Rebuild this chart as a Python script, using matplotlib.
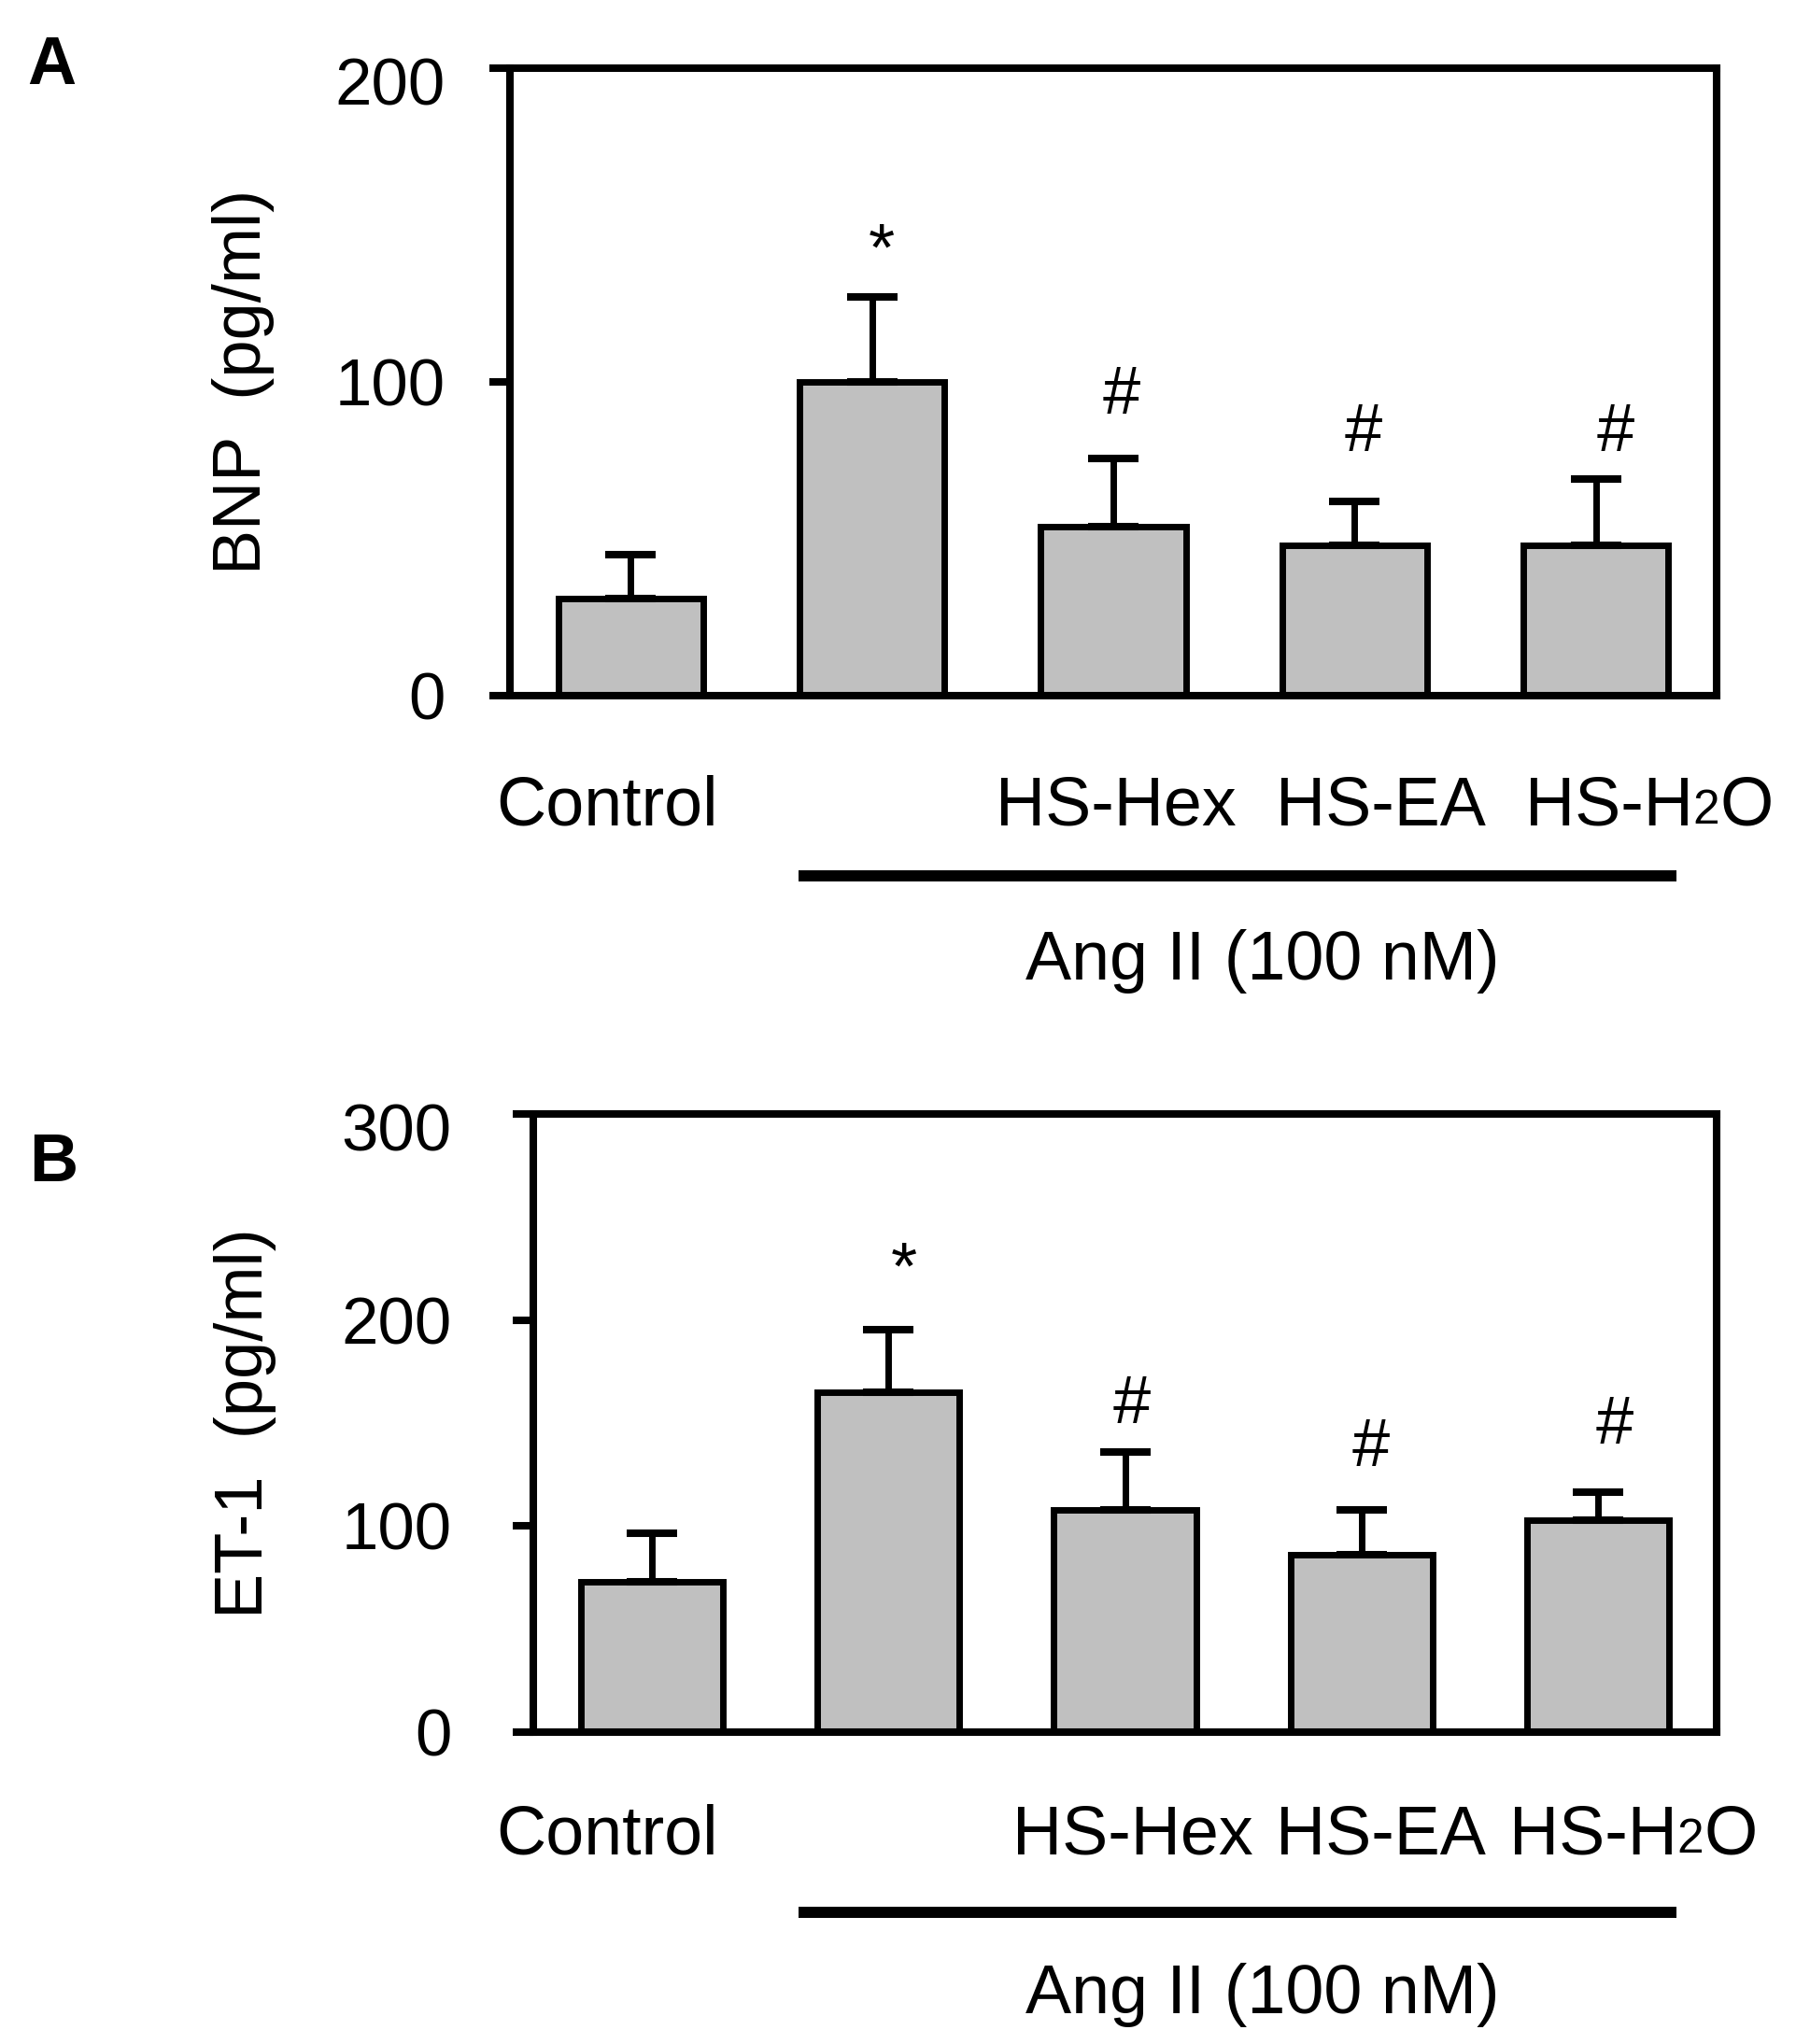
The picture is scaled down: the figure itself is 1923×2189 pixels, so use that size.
import numpy as np
import matplotlib
matplotlib.use("Agg")
import matplotlib.pyplot as plt
from matplotlib.lines import Line2D
from matplotlib.transforms import ScaledTranslation

plt.rcParams["font.family"] = ["Liberation Sans", "DejaVu Sans"]

# data
groups = ["Control", "Ang II", "HS-Hex", "HS-EA", "HS-H2O"]
group_labels = ["Control", "", "HS-Hex", "HS-EA", "HS-H"]  # "2" and "O" added below

bnp_mean = [31, 100, 54, 48, 48]
bnp_err = [14, 27, 21.5, 14, 21]
bnp_marks = ["", "*", "#", "#", "#"]
bnp_mark_y = [0, 135.5, 90, 78, 78]
bnp_ticks = [0, 100, 200]

et1_mean = [73, 165, 108, 86, 103]
et1_err = [23.5, 30.5, 28, 22, 13.5]
et1_marks = ["", "*", "#", "#", "#"]
et1_mark_y = [0, 215, 150, 129, 140]
et1_ticks = [0, 100, 200, 300]

treatment_text = "Ang II (100 nM)"

W, H = 1924, 2189
fig = plt.figure(figsize=(W / 100, H / 100), dpi=100)

FS = 53
BAR_W = 0.6
SPINE_LW = 5.8


def px(x, y):
    # pixel position -> figure fraction
    return x / W, 1 - y / H


def panel(rect, means, errs, marks, mark_y, ticks, ylabel, letter,
          letter_xy, ylabel_x, label_x, label_y, line_y, ang_y, tick_pad, mark_dx):
    ax = fig.add_axes(rect)
    x = np.arange(len(means))
    ax.bar(x, means, width=BAR_W, color="#c0c0c0", edgecolor="black",
           linewidth=5, zorder=2)
    ax.errorbar(x, means, yerr=[np.zeros(len(errs)), errs], fmt="none",
                ecolor="black", elinewidth=5, capsize=19.5, capthick=5.8, zorder=3)
    ax.set_xlim(-0.5, len(means) - 0.5)
    ax.set_ylim(ticks[0], ticks[-1])
    ax.set_xticks([])
    ax.set_yticks(ticks)
    for s in ax.spines.values():
        s.set_linewidth(SPINE_LW)
        s.set_zorder(4)
    ax.tick_params(axis="y", direction="out", length=16, width=SPINE_LW,
                   pad=tick_pad, labelsize=51)

    # top tick label sits a bit lower in the original
    top = ax.yaxis.get_major_ticks()[-1].label1
    top.set_transform(top.get_transform() +
                      ScaledTranslation(0, -0.14, fig.dpi_scale_trans))

    for xi, m, my, dx in zip(x, marks, mark_y, mark_dx):
        if m:
            ax.text(xi + dx, my, m, ha="center", va="baseline", fontsize=52)

    # y label
    cy = rect[1] + rect[3] / 2
    fig.text(ylabel_x / W, cy, ylabel, rotation=90, ha="center", va="center",
             fontsize=52)

    # panel letter
    fig.text(*px(*letter_xy), letter, fontsize=52, fontweight="bold",
             ha="left", va="baseline")

    # category labels
    by = 1 - label_y / H
    last = None
    for lab, lx in zip(group_labels, label_x):
        if lab:
            last = fig.text(lx / W, by, lab, ha="left", va="baseline", fontsize=FS)
    # small 2 on the baseline, then the O of H2O
    t2 = ax.annotate("2", xy=(1, 0), xycoords=last, xytext=(0, 3.4),
                     textcoords="offset points", ha="left", va="bottom",
                     fontsize=37, annotation_clip=False)
    ax.annotate("O", xy=(1, 0), xycoords=(t2, last), ha="left", va="bottom",
                fontsize=FS, annotation_clip=False)

    # treatment bracket
    x0, yl = px(855, line_y)
    x1, _ = px(1795, line_y)
    fig.add_artist(Line2D([x0, x1], [yl, yl], color="black", linewidth=8.6,
                          solid_capstyle="butt"))
    fig.text(1352 / W, 1 - ang_y / H, treatment_text, ha="center",
             va="baseline", fontsize=FS)
    return ax


panel([546 / W, 1 - 745 / H, (1838 - 546) / W, 672 / H],
      bnp_mean, bnp_err, bnp_marks, bnp_mark_y, bnp_ticks,
      "BNP  (pg/ml)", "A", (29, 90), 261,
      [531, 0, 1066, 1366, 1633], 883, 938, 1049, 34,
      [0, 0.04, 0.035, 0.037, 0.08])

panel([571 / W, 1 - 1855 / H, (1838 - 571) / W, 662 / H],
      et1_mean, et1_err, et1_marks, et1_mark_y, et1_ticks,
      "ET-1  (pg/ml)", "B", (31, 1265), 263,
      [531, 0, 1084, 1366, 1616], 1985, 2048, 2156, 47,
      [0, 0.067, 0.03, 0.04, 0.07])

fig.savefig("out.png", dpi=100)
